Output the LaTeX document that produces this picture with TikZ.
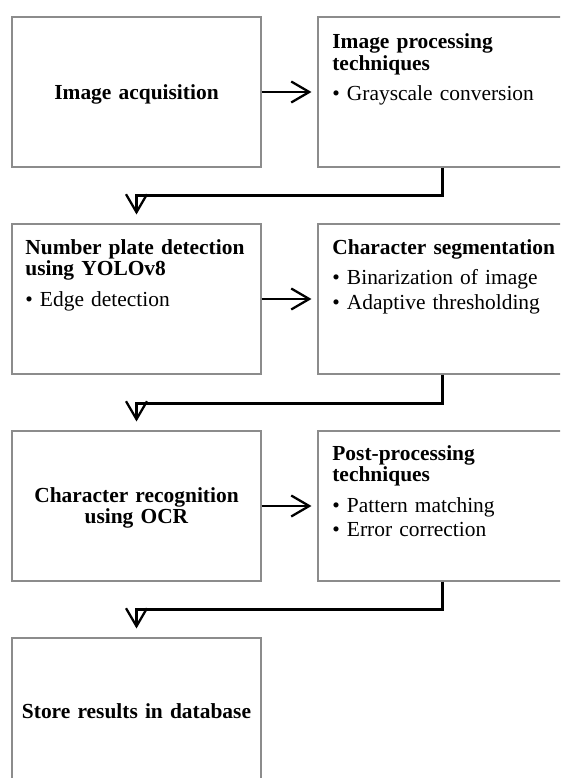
\documentclass[tikz,border=0pt]{standalone}
\usepackage{fontspec}
\setmainfont{Liberation Serif}[WordSpace=0.75]
\usetikzlibrary{arrows.meta}

\begin{document}
\begin{tikzpicture}[
  stage/.style={draw=black!45, line width=0.6pt, minimum width=4.98cm, minimum height=3cm, inner sep=0pt},
  txt/.style={text width=4.6cm, align=left, inner sep=0pt, font=\fontsize{12.2pt}{12.5pt}\selectfont},
  mid/.style={txt, align=center},
  flow/.style={->, >={Straight Barb[length=0.36cm,width=0.42cm]}, line width=1.3pt}
]
\useasboundingbox (0,0) rectangle (11.2,-15.56);
\clip (0,0) rectangle (11.2,-15.56);

\node[stage] (acq) at (2.73,-1.84) {};
\node[stage] (proc) at (8.85,-1.84) {};
\node[stage] (det) at (2.73,-5.98) {};
\node[stage] (seg) at (8.85,-5.98) {};
\node[stage] (rec) at (2.73,-10.12) {};
\node[stage] (post) at (8.85,-10.12) {};
\node[stage] (store) at (2.73,-14.26) {};

\node[mid, anchor=base] (acqtext) at (2.73,-1.98) {\textbf{Image acquisition}};
\node[txt, anchor=base west] (proctext) at (6.64,-0.97) {\textbf{Image processing}\\ \textbf{techniques}\\[4.6pt] \textbullet\ Grayscale conversion};
\node[txt, anchor=base west] (dettext) at (0.5,-5.08) {\textbf{Number plate detection}\\ \textbf{using YOLOv8}\\[4.8pt] \textbullet\ Edge detection};
\node[txt, anchor=base west] (segtext) at (6.64,-5.08) {\textbf{Character segmentation}\\[4.8pt] \textbullet\ Binarization of image\\[1.7pt] \textbullet\ Adaptive thresholding};
\node[mid, anchor=base] (rectext) at (2.73,-10.04) {\textbf{Character recognition}\\ \textbf{using OCR}};
\node[txt, anchor=base west] (posttext) at (6.64,-9.2) {\textbf{Post-processing}\\ \textbf{techniques}\\[4.6pt] \textbullet\ Pattern matching\\[1.7pt] \textbullet\ Error correction};
\node[mid, anchor=base] (storetext) at (2.73,-14.36) {\textbf{Store results in database}};

\draw[flow, shorten >=0.12cm] (acq) -- (proc);
\draw[flow, shorten >=0.12cm] (det) -- (seg);
\draw[flow, shorten >=0.12cm] (rec) -- (post);

\draw[flow, shorten >=0.18cm] (proc.south) -- ++(0,-0.56) -| (det.north);
\draw[flow, shorten >=0.18cm] (seg.south) -- ++(0,-0.58) -| (rec.north);
\draw[flow, shorten >=0.18cm] (post.south) -- ++(0,-0.56) -| (store.north);
\end{tikzpicture}
\end{document}
